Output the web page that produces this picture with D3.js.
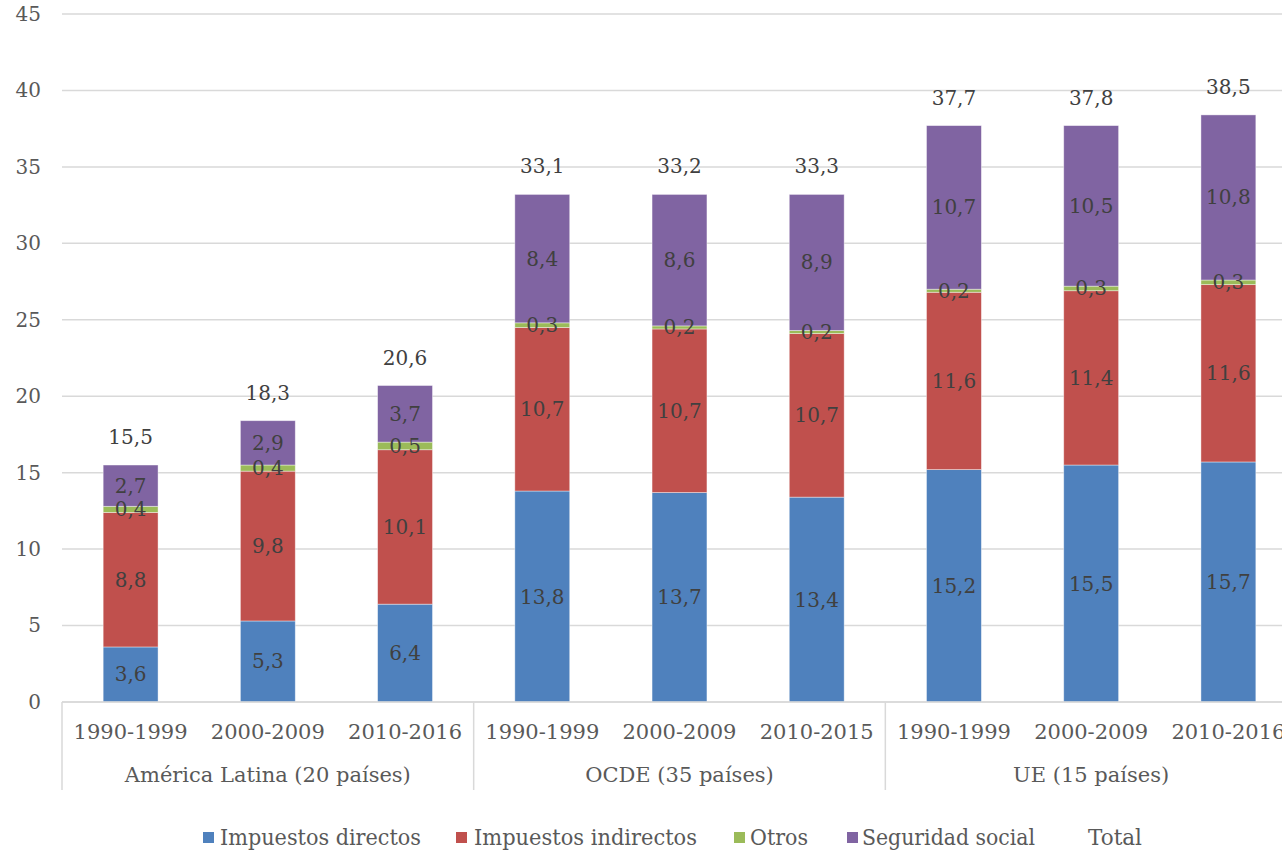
<!DOCTYPE html>
<html lang="es">
<head>
<meta charset="utf-8">
<script src="https://cdn.jsdelivr.net/npm/d3@7"></script>
<style>
  html, body { margin: 0; padding: 0; background: #fff; }
  svg { display: block; }
  text { font-family: "DejaVu Serif", "Liberation Serif", serif; }
</style>
</head>
<body>
<svg id="chart" width="1282" height="850"></svg>
<script>
// Tax burden by component (% of GDP), averages by period
const groups = ["América Latina (20 países)", "OCDE (35 países)", "UE (15 países)"];
const periods = [
  "1990-1999", "2000-2009", "2010-2016",
  "1990-1999", "2000-2009", "2010-2015",
  "1990-1999", "2000-2009", "2010-2016"
];
const directos   = [3.6, 5.3, 6.4, 13.8, 13.7, 13.4, 15.2, 15.5, 15.7];
const indirectos = [8.8, 9.8, 10.1, 10.7, 10.7, 10.7, 11.6, 11.4, 11.6];
const otros      = [0.4, 0.4, 0.5, 0.3, 0.2, 0.2, 0.2, 0.3, 0.3];
const seguridad  = [2.7, 2.9, 3.7, 8.4, 8.6, 8.9, 10.7, 10.5, 10.8];
const total      = [15.5, 18.3, 20.6, 33.1, 33.2, 33.3, 37.7, 37.8, 38.5];
const yTicks     = [0, 5, 10, 15, 20, 25, 30, 35, 40, 45];

const seriesNames  = ["Impuestos directos", "Impuestos indirectos", "Otros", "Seguridad social"];
const seriesColors = ["#4F81BD", "#C0504D", "#9BBB59", "#8064A2"];
const seriesValues = [directos, indirectos, otros, seguridad];

const svg = d3.select("#chart");
const plotL = 62, plotR = 1297, plotT = 14, plotB = 702;

const keys = periods.map((p, i) => i);
const x = d3.scaleBand().domain(keys).range([plotL, plotR]).paddingInner(0.6).paddingOuter(0.3);
const y = d3.scaleLinear().domain([0, 45]).range([plotB, plotT]);

const fmt = v => d3.format(".1f")(v).replace(".", ",");

// gridlines
svg.append("g").selectAll("line").data(yTicks).join("line")
  .attr("x1", plotL).attr("x2", 1282)
  .attr("y1", d => y(d)).attr("y2", d => y(d))
  .attr("stroke", "#d9d9d9").attr("stroke-width", 1.5);

// y-axis labels
const yAxis = svg.append("g").attr("transform", `translate(41,0)`)
  .call(d3.axisLeft(y).tickValues(yTicks).tickSize(0).tickPadding(0).tickFormat(d => d));
yAxis.select(".domain").remove();
yAxis.selectAll("text").attr("font-size", 20).attr("fill", "#595959")
  .attr("font-family", "DejaVu Serif, serif");

// stacked data
const rows = keys.map(i => {
  const r = { i };
  seriesNames.forEach((n, s) => r[n] = seriesValues[s][i]);
  return r;
});
const stacked = d3.stack().keys(seriesNames)(rows);

const barG = svg.append("g");
stacked.forEach((layer, s) => {
  barG.append("g").selectAll("rect").data(layer).join("rect")
    .attr("x", d => x(d.data.i))
    .attr("width", x.bandwidth())
    .attr("y", d => y(d[1]))
    .attr("height", d => y(d[0]) - y(d[1]))
    .attr("fill", seriesColors[s])
    .attr("stroke", "#ffffff").attr("stroke-opacity", 0.5).attr("stroke-width", 0.8);
});

// segment labels
const labG = svg.append("g");
stacked.forEach((layer, s) => {
  labG.append("g").selectAll("text").data(layer).join("text")
    .attr("x", d => x(d.data.i) + x.bandwidth() / 2)
    .attr("y", d => (y(d[0]) + y(d[1])) / 2)
    .attr("dy", "0.35em")
    .attr("text-anchor", "middle")
    .attr("font-size", 20).attr("fill", "#404040")
    .text(d => fmt(d.data[layer.key]));
});

// total labels above bars
const topOf = i => stacked[stacked.length - 1][i][1];
svg.append("g").selectAll("text").data(keys).join("text")
  .attr("x", i => x(i) + x.bandwidth() / 2)
  .attr("y", i => y(topOf(i)) - 28)
  .attr("dy", "0.35em")
  .attr("text-anchor", "middle")
  .attr("font-size", 20).attr("fill", "#404040")
  .text(i => fmt(total[i]));

// category axis
const axisG = svg.append("g");
axisG.append("line").attr("x1", plotL).attr("x2", 1282).attr("y1", plotB).attr("y2", plotB)
  .attr("stroke", "#d9d9d9").attr("stroke-width", 1.5);
const groupEdges = [0, 3, 6, 9].map(k => plotL + k * (plotR - plotL) / 9);
axisG.selectAll("line.sep").data(groupEdges).join("line").attr("class", "sep")
  .attr("x1", d => d).attr("x2", d => d).attr("y1", plotB).attr("y2", 790)
  .attr("stroke", "#d9d9d9").attr("stroke-width", 1.5);
axisG.selectAll("text.per").data(keys).join("text").attr("class", "per")
  .attr("x", i => x(i) + x.bandwidth() / 2)
  .attr("y", 732).attr("dy", "0.35em")
  .attr("text-anchor", "middle")
  .attr("font-size", 21).attr("fill", "#595959")
  .text(i => periods[i]);
axisG.selectAll("text.grp").data(groups).join("text").attr("class", "grp")
  .attr("x", (d, g) => (groupEdges[g] + groupEdges[g + 1]) / 2)
  .attr("y", 775).attr("dy", "0.35em")
  .attr("text-anchor", "middle")
  .attr("font-size", 21).attr("fill", "#595959")
  .text(d => d);

// legend
const legendItems = [
  { name: "Impuestos directos",   color: seriesColors[0], sx: 203, tx: 220, tw: 201 },
  { name: "Impuestos indirectos", color: seriesColors[1], sx: 456, tx: 474, tw: 223 },
  { name: "Otros",                color: seriesColors[2], sx: 734, tx: 750, tw: 58 },
  { name: "Seguridad social",     color: seriesColors[3], sx: 847, tx: 862, tw: 173 },
  { name: "Total",                color: null,            sx: null, tx: 1088, tw: 54 }
];
const lg = svg.append("g");
legendItems.forEach(it => {
  if (it.color) {
    lg.append("rect").attr("x", it.sx).attr("y", 832).attr("width", 11).attr("height", 11)
      .attr("fill", it.color);
  }
  lg.append("text").attr("x", it.tx).attr("y", 845)
    .attr("font-family", "Liberation Serif, serif")
    .attr("font-size", 23).attr("fill", "#595959")
    .attr("textLength", it.tw).attr("lengthAdjust", "spacingAndGlyphs")
    .text(it.name);
});
</script>
</body>
</html>
